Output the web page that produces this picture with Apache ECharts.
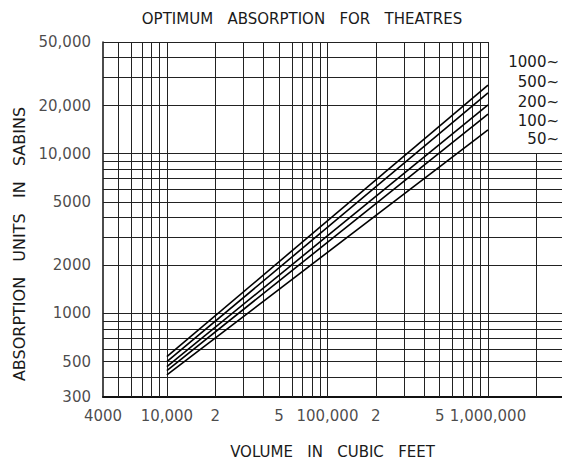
<!DOCTYPE html>
<html><head><meta charset="utf-8">
<style>html,body{margin:0;padding:0;background:#fff}#c{width:562px;height:465px}</style>
<script src="https://cdn.jsdelivr.net/npm/echarts@6/dist/echarts.min.js"></script>
</head><body><div id="c"></div>
<script>
// ---- data ----
const volumes = [10000, 1000000];               // cubic feet
const freqLabels = ['1000~', '500~', '200~', '100~', '50~'];
const abs1000 = [537, 26900];                   // sabins
const abs500  = [499, 24000];
const abs200  = [464, 20200];
const abs100  = [439, 17700];
const abs50   = [412, 14100];
const xTickValues = [4000, 10000, 20000, 50000, 100000, 200000, 500000, 1000000];
const xTickLabels = ['4000', '10,000', '2', '5', '100,000', '2', '5', '1,000,000'];
const yTickValues = [300, 500, 1000, 2000, 5000, 10000, 20000, 50000];
const yTickLabels = ['300', '500', '1000', '2000', '5000', '10,000', '20,000', '50,000'];
const gridXValues = [5000, 6000, 7000, 8000, 9000,
  10000, 20000, 30000, 40000, 50000, 60000, 70000, 80000, 90000,
  100000, 200000, 300000, 400000, 500000, 600000, 700000, 800000, 900000,
  1000000, 2000000];
const gridYValues = [400, 500, 600, 700, 800, 900,
  1000, 2000, 3000, 4000, 5000, 6000, 7000, 8000, 9000,
  10000, 20000, 30000, 40000, 50000];
const xMin = 4000, xMax = 2890000, yMin = 300, yMax = 50000;

const seriesValues = [abs1000, abs500, abs200, abs100, abs50];
const FONT = 'DejaVu Sans';
const INK = '#1a1a1a';

const gridLines = [];
gridXValues.forEach(v => gridLines.push([{coord: [v, yMin]}, {coord: [v, v > 1000000 ? 10000 : yMax]}]));
gridYValues.forEach(v => gridLines.push([{coord: [xMin, v]}, {coord: [v > 10000 ? 1000000 : xMax, v]}]));

const series = [{
  type: 'line', data: [], silent: true,
  markLine: {
    silent: true, symbol: ['none', 'none'], animation: false,
    label: {show: false},
    lineStyle: {color: '#222', width: 1, type: 'solid'},
    emphasis: {disabled: true},
    data: gridLines
  }
}];
seriesValues.forEach((vals, i) => {
  series.push({
    name: freqLabels[i], type: 'line', symbol: 'none', z: 5,
    lineStyle: {color: '#000', width: 1.6},
    data: volumes.map((v, j) => [v, vals[j]])
  });
});
series.push({
  type: 'scatter', symbolSize: 0, clip: false, silent: true,
  data: xTickValues.map((v, i) => ({name: xTickLabels[i], value: [v, yMin]})),
  label: {show: true, position: 'bottom', distance: 11, formatter: '{b}',
          fontFamily: FONT, fontSize: 15, color: INK}
});
series.push({
  type: 'scatter', symbolSize: 0, clip: false, silent: true,
  data: yTickValues.map((v, i) => ({name: yTickLabels[i], value: [xMin, v]})),
  label: {show: true, position: 'left', distance: 12, formatter: '{b}',
          fontFamily: FONT, fontSize: 15, color: INK}
});

const graphics = [{
  type: 'text', x: 19, y: 244, rotation: Math.PI / 2,
  style: {text: 'ABSORPTION   UNITS   IN   SABINS', fontFamily: FONT, fontSize: 16,
          fill: INK, textAlign: 'center', textVerticalAlign: 'middle'}
}];
const labelYs = [62, 82, 102, 121, 139];
freqLabels.forEach((t, i) => graphics.push({
  type: 'text', x: 559, y: labelYs[i],
  style: {text: t, fontFamily: FONT, fontSize: 15, fill: INK, textAlign: 'right', textVerticalAlign: 'middle'}
}));

const chart = echarts.init(document.getElementById('c'), null, {renderer: 'svg'});
chart.setOption({
  animation: false,
  backgroundColor: '#fff',
  title: {text: 'OPTIMUM   ABSORPTION   FOR   THEATRES', left: 297, top: 6, textAlign: 'center',
          textStyle: {fontFamily: FONT, fontSize: 15, fontWeight: 'normal', color: INK}},
  grid: {left: 103, right: 0, top: 42, bottom: 68, containLabel: false},
  xAxis: {type: 'log', logBase: 10, min: xMin, max: xMax,
          name: 'VOLUME   IN   CUBIC   FEET', nameLocation: 'middle', nameGap: 47,
          nameTextStyle: {fontFamily: FONT, fontSize: 15, color: INK},
          axisLine: {show: true, lineStyle: {color: '#111', width: 2}},
          axisTick: {show: false}, axisLabel: {show: false}, splitLine: {show: false}},
  yAxis: {type: 'log', logBase: 10, min: yMin, max: yMax,
          axisLine: {show: true, lineStyle: {color: '#111', width: 1.5}},
          axisTick: {show: false}, axisLabel: {show: false}, splitLine: {show: false}},
  graphic: graphics,
  series: series
});
</script>
</body></html>
